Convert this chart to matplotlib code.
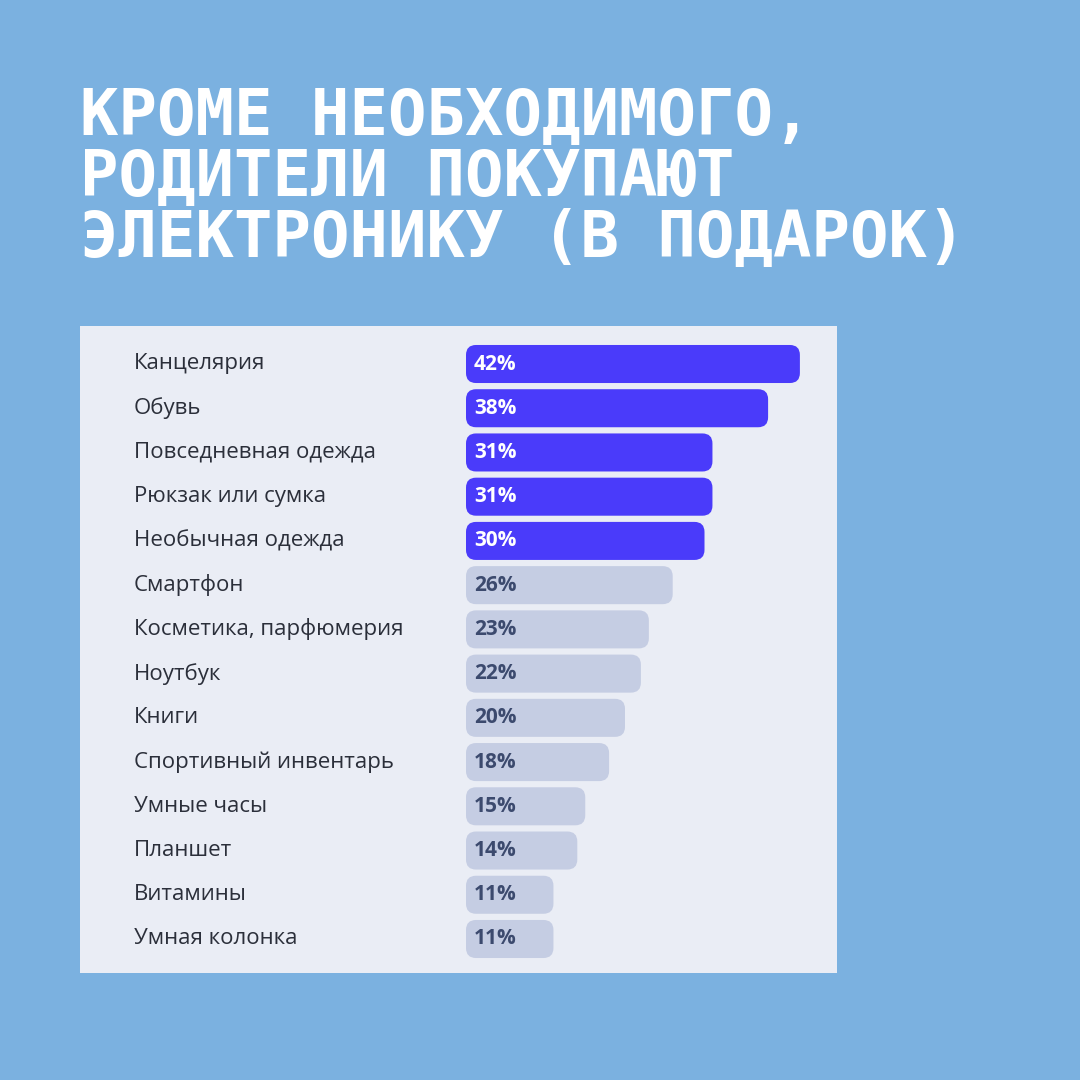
import matplotlib.pyplot as plt
from matplotlib.patches import FancyBboxPatch

categories = ["Канцелярия", "Обувь", "Повседневная одежда", "Рюкзак или сумка",
              "Необычная одежда", "Смартфон", "Косметика, парфюмерия", "Ноутбук",
              "Книги", "Спортивный инвентарь", "Умные часы", "Планшет",
              "Витамины", "Умная колонка"]
values = [42, 38, 31, 31, 30, 26, 23, 22, 20, 18, 15, 14, 11, 11]
highlight = [True] * 5 + [False] * 9
title_lines = ["КРОМЕ НЕОБХОДИМОГО,", "РОДИТЕЛИ ПОКУПАЮТ", "ЭЛЕКТРОНИКУ (В ПОДАРОК)"]

BG = "#7bb1e0"
PANEL = "#eaedf5"
DARK = "#4a3bfa"
LIGHT = "#c5cde3"

fig = plt.figure(figsize=(10.8, 10.8), dpi=100, facecolor=BG)

for i, line in enumerate(title_lines):
    fig.text(80 / 1080, 1 - (117 + 61 * i) / 1080, line, color="white",
             fontsize=46, fontweight="bold", family="DejaVu Sans Mono", va="center")

# panel axes: x 80..837 px, y 326..973 px
ax = fig.add_axes([80 / 1080, 1 - 973 / 1080, 757 / 1080, 647 / 1080])
ax.set_facecolor(PANEL)
pxx = 7.95   # px per percent
pxy = 44.23  # px per row
ax.set_xlim(-(466 - 80) / pxx, (837 - 466) / pxx)
ax.set_ylim((973 - 364) / pxy, (326 - 364) / pxy)
for s in ax.spines.values():
    s.set_visible(False)
ax.set_xticks([])
ax.set_yticks([])

h = 0.86
r = 10 / pxx
for i, (cat, v, hl) in enumerate(zip(categories, values, highlight)):
    ax.add_patch(FancyBboxPatch((0, i - h / 2), v, h,
                                boxstyle=f"round,pad=0,rounding_size={r}",
                                mutation_aspect=pxx / pxy,
                                fc=DARK if hl else LIGHT, ec="none"))
    ax.text(1.0, i, f"{v}%", va="center", ha="left", fontsize=15,
            fontweight="bold", color="white" if hl else "#3c4a6e", family="Open Sans")
    ax.text((134 - 466) / pxx, i, cat, va="center", ha="left", fontsize=16,
            color="#2b2f3a", family="Open Sans")

fig.savefig("out.png", dpi=100, facecolor=BG)
